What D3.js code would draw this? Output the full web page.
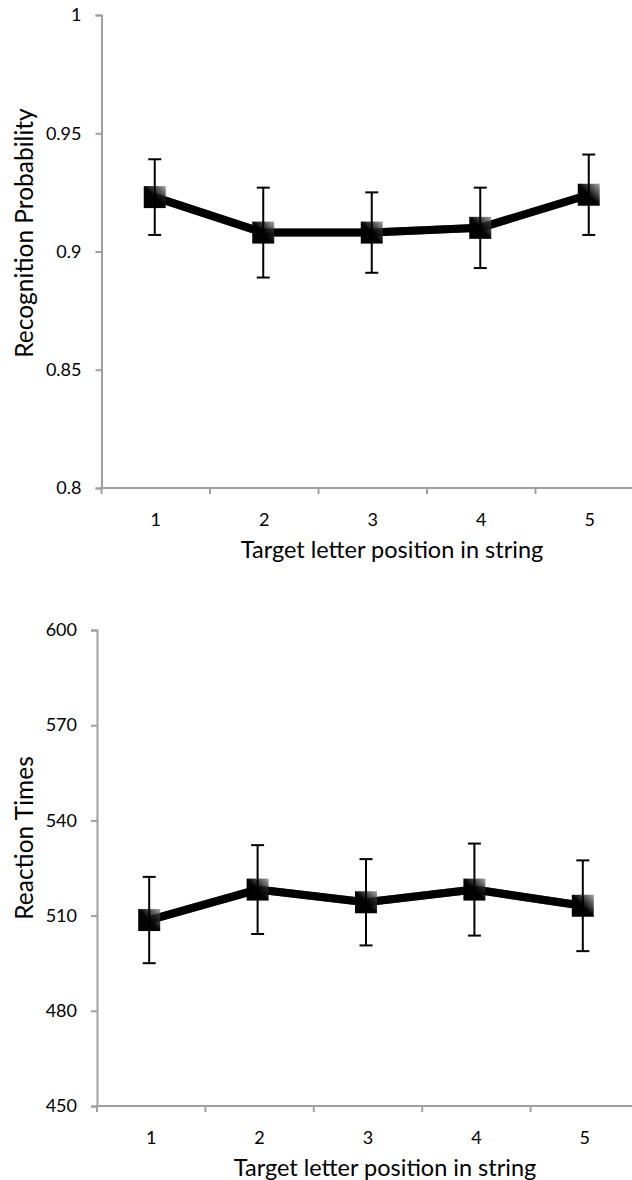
<!DOCTYPE html>
<html>
<head>
<meta charset="utf-8">
<script src="https://cdn.jsdelivr.net/npm/d3@7"></script>
<style>
  html, body { margin: 0; padding: 0; background: #fff; }
  svg { display: block; }
  text { font-family: Lato, "Open Sans", sans-serif; fill: #000; }
</style>
</head>
<body>
<script>
// Target letter positions (x categories)
const positions = ["1", "2", "3", "4", "5"];

// Recognition probability: means and error-bar half widths
const recogMean = [0.923, 0.908, 0.908, 0.910, 0.924];
const recogErr  = [0.016, 0.019, 0.017, 0.017, 0.017];
const recogTicks = [0.8, 0.85, 0.9, 0.95, 1];
const recogTickLabels = ["0.8", "0.85", "0.9", "0.95", "1"];

// Reaction times: means and error-bar half widths
const rtMean = [508.6, 518.2, 514.2, 518.2, 513.1];
const rtErr  = [13.6, 14.0, 13.6, 14.5, 14.3];
const rtTicks = [450, 480, 510, 540, 570, 600];
const rtTickLabels = ["450", "480", "510", "540", "570", "600"];

const xTitle = "Target letter position in string";

const W = 632, H = 1180;
const svg = d3.select("body").append("svg").attr("width", W).attr("height", H);

// Marker fill: black towards the lower left, fading to grey at the upper right
const defs = svg.append("defs");
const grad = defs.append("linearGradient")
  .attr("id", "markerFill")
  .attr("x1", 0).attr("y1", 1).attr("x2", 1).attr("y2", 0);
grad.append("stop").attr("offset", "0%").attr("stop-color", "#000");
grad.append("stop").attr("offset", "50%").attr("stop-color", "#050505");
grad.append("stop").attr("offset", "100%").attr("stop-color", "#a8a8a8");

function drawPanel(cfg) {
  const g = svg.append("g");
  const x = d3.scaleBand().domain(positions).range([cfg.left, cfg.right]);
  const y = d3.scaleLinear().domain(cfg.domain).range([cfg.bottom, cfg.top]);
  const axisColor = "#a0a0a0";

  // y axis
  const yAxis = d3.axisLeft(y).tickValues(cfg.ticks)
    .tickFormat((d, i) => cfg.tickLabels[i]).tickSize(6).tickPadding(14);
  const ya = g.append("g").attr("transform", `translate(${cfg.left},0)`).call(yAxis);
  ya.select(".domain").attr("stroke", axisColor).attr("stroke-width", 2);
  ya.selectAll(".tick line").attr("stroke", axisColor).attr("stroke-width", 2);
  ya.selectAll(".tick text").style("font-size", "18px").attr("fill", "#000")
    .style("font-family", "Lato, sans-serif");

  // x axis: ticks sit between categories
  const xa = g.append("g").attr("transform", `translate(0,${cfg.bottom})`);
  xa.append("line").attr("x1", cfg.left - 1).attr("x2", cfg.right)
    .attr("y1", 0).attr("y2", 0).attr("stroke", axisColor).attr("stroke-width", 2);
  const edges = positions.map(p => x(p)).concat([cfg.right]);
  xa.selectAll("line.xt").data(edges).join("line").attr("class", "xt")
    .attr("x1", d => d).attr("x2", d => d).attr("y1", 0).attr("y2", 6)
    .attr("stroke", axisColor).attr("stroke-width", 2);
  xa.selectAll("text.xl").data(positions).join("text").attr("class", "xl")
    .attr("x", d => x(d) + x.bandwidth() / 2).attr("y", 38)
    .attr("text-anchor", "middle").style("font-size", "18px").text(d => d);

  // axis titles
  g.append("text").attr("x", cfg.xTitleX).attr("y", cfg.bottom + 70)
    .attr("text-anchor", "middle").style("font-size", "23.5px").text(xTitle);
  g.append("text")
    .attr("transform", `translate(${cfg.yTitleX},${cfg.yTitleY}) rotate(-90)`)
    .attr("text-anchor", "middle").style("font-size", "24.5px").text(cfg.yTitle);

  const cx = i => x(positions[i]) + x.bandwidth() / 2 + cfg.shift;
  const idx = d3.range(positions.length);

  // connecting line
  const line = d3.line().x(i => cx(i)).y(i => y(cfg.mean[i]));
  g.append("path").datum(idx).attr("d", line)
    .attr("fill", "none").attr("stroke", "#000").attr("stroke-width", 8)
    .attr("stroke-linejoin", "round");

  // markers
  const ms = 22;
  g.selectAll("rect.mk").data(idx).join("rect").attr("class", "mk")
    .attr("x", i => cx(i) - ms / 2).attr("y", i => y(cfg.mean[i]) - ms / 2)
    .attr("width", ms).attr("height", ms).attr("fill", "url(#markerFill)");

  // line over markers at the centre
  g.append("path").datum(idx).attr("d", line)
    .attr("fill", "none").attr("stroke", "#000").attr("stroke-width", 8)
    .attr("stroke-linejoin", "round").attr("opacity", 0.6);

  // error bars
  const cap = 6.5;
  const eb = g.selectAll("g.eb").data(idx).join("g").attr("class", "eb");
  eb.append("line")
    .attr("x1", i => cx(i)).attr("x2", i => cx(i))
    .attr("y1", i => y(cfg.mean[i] + cfg.err[i])).attr("y2", i => y(cfg.mean[i] - cfg.err[i]))
    .attr("stroke", "#000").attr("stroke-width", 2);
  eb.append("line")
    .attr("x1", i => cx(i) - cap).attr("x2", i => cx(i) + cap)
    .attr("y1", i => y(cfg.mean[i] + cfg.err[i])).attr("y2", i => y(cfg.mean[i] + cfg.err[i]))
    .attr("stroke", "#000").attr("stroke-width", 2);
  eb.append("line")
    .attr("x1", i => cx(i) - cap).attr("x2", i => cx(i) + cap)
    .attr("y1", i => y(cfg.mean[i] - cfg.err[i])).attr("y2", i => y(cfg.mean[i] - cfg.err[i]))
    .attr("stroke", "#000").attr("stroke-width", 2);
}

drawPanel({
  left: 101.5, right: 644, top: 15, bottom: 488, shift: -1,
  domain: [0.8, 1], ticks: recogTicks, tickLabels: recogTickLabels,
  mean: recogMean, err: recogErr,
  yTitle: "Recognition Probability", yTitleX: 33, yTitleY: 233, xTitleX: 392
});

drawPanel({
  left: 97, right: 639, top: 630, bottom: 1106, shift: -2,
  domain: [450, 600], ticks: rtTicks, tickLabels: rtTickLabels,
  mean: rtMean, err: rtErr,
  yTitle: "Reaction Times", yTitleX: 33, yTitleY: 838, xTitleX: 385
});
</script>
</body>
</html>
